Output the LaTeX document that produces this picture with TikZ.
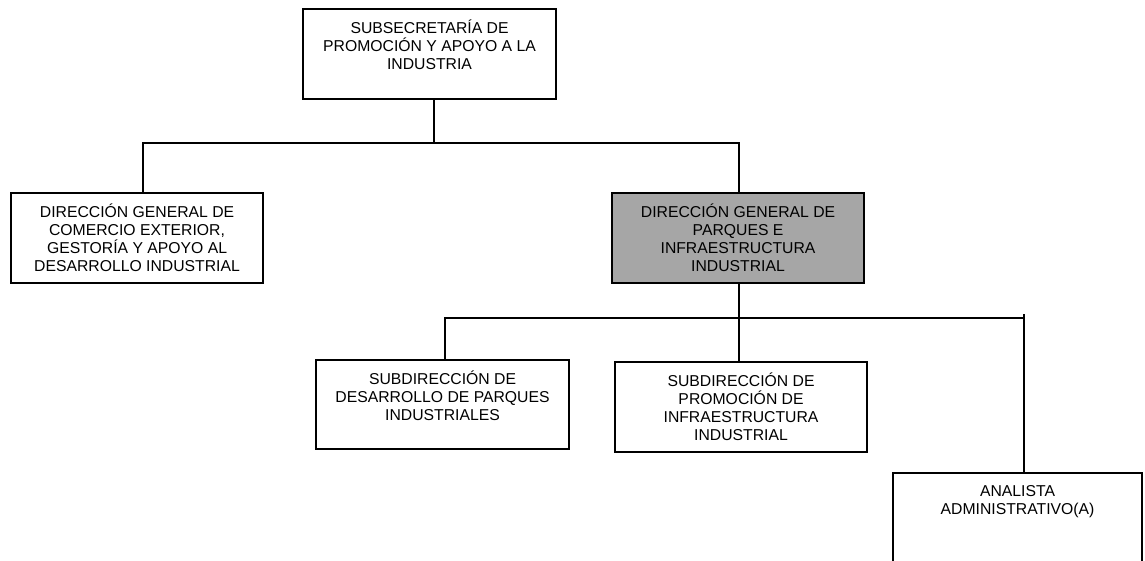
\documentclass[tikz,border=0pt]{standalone}
\usepackage{fontspec}
\setmainfont{Liberation Sans}

\newlength{\pxu}
\setlength{\pxu}{0.025cm}
\newcommand{\orgtext}[3]{\parbox[t][#2\pxu][t]{#1\pxu}{\lineskiplimit=-20pt\centering\vspace*{8pt}\strut #3}}

\begin{document}
\begin{tikzpicture}[x=0.025cm, y=-0.025cm,
	unit/.style={draw, line width=1.5pt, anchor=north west, inner sep=0pt, fill=white, font=\fontsize{11.2}{12.8}\selectfont},
	link/.style={line width=1pt}]
	\useasboundingbox (0,0) rectangle (1145,560);

	\node[unit] (subsec) at (302,8) {\orgtext{253}{90}{SUBSECRETARÍA DE\\PROMOCIÓN Y APOYO A LA\\INDUSTRIA}};
	\node[unit] (dgce) at (10,192) {\orgtext{252}{90}{DIRECCIÓN GENERAL DE\\COMERCIO EXTERIOR,\\GESTORÍA Y APOYO AL\\DESARROLLO INDUSTRIAL}};
	\node[unit, fill=black!35] (dgpi) at (611,192) {\orgtext{252}{90}{DIRECCIÓN GENERAL DE\\PARQUES E\\INFRAESTRUCTURA\\INDUSTRIAL}};
	\node[unit] (sdpi) at (315,359) {\orgtext{253}{89}{SUBDIRECCIÓN DE\\DESARROLLO DE PARQUES\\INDUSTRIALES}};
	\node[unit] (spi) at (614,361) {\orgtext{252}{90}{SUBDIRECCIÓN DE\\PROMOCIÓN DE\\INFRAESTRUCTURA\\INDUSTRIAL}};
	\node[unit] (analista) at (892,472) {\orgtext{249}{100}{ANALISTA\\ADMINISTRATIVO(A)}};

	% first level
	\coordinate (hub1) at (434,143);
	\coordinate (hub1w) at (143,143);
	\coordinate (hub1e) at (739,143);
	\draw[link] (subsec.south -| hub1) -- (hub1);
	\draw[link] (dgce.north -| hub1w) -- (hub1w) -- (hub1e) -- (dgpi.north -| hub1e);

	% second level
	\coordinate (hub2) at (739,318);
	\coordinate (hub2w) at (445,318);
	\coordinate (hub2e) at (1024,318);
	\coordinate (hub2t) at (1024,314);
	\draw[link] (dgpi.south -| hub2) -- (hub2) -- (spi.north -| hub2);
	\draw[link] (sdpi.north -| hub2w) -- (hub2w) -- (hub2e);
	\draw[link] (hub2t) -- (analista.north -| hub2e);
\end{tikzpicture}
\end{document}
